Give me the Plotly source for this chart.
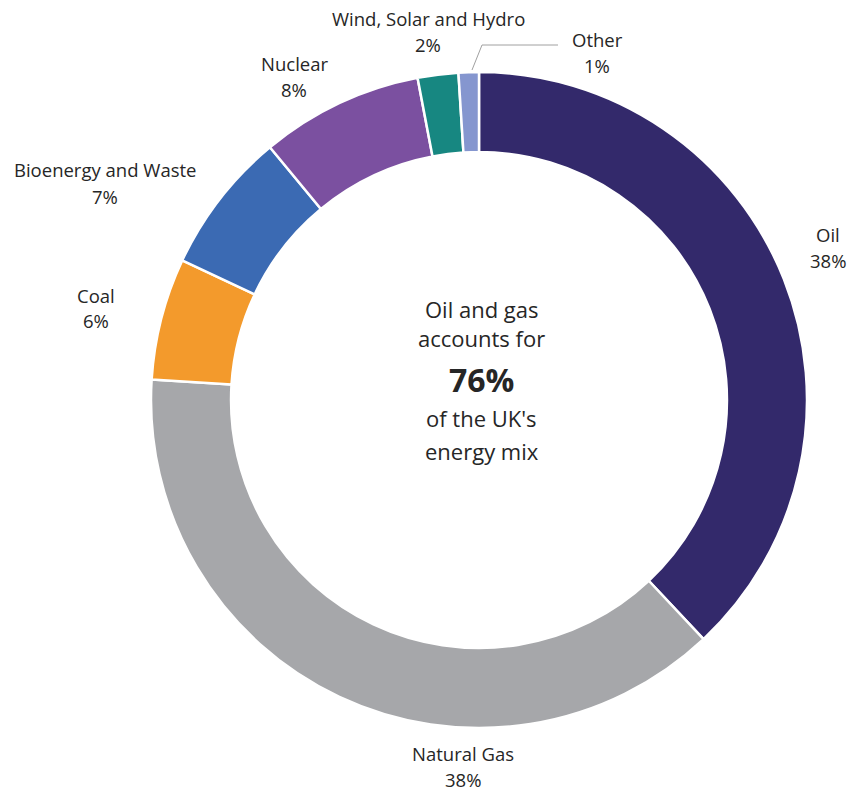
import plotly.graph_objects as go

# UK primary energy mix, share of total (%)
sources = ["Oil", "Natural Gas", "Coal", "Bioenergy and Waste", "Nuclear",
           "Wind, Solar and Hydro", "Other"]
shares = [38, 38, 6, 7, 8, 2, 1]
colors = ["#33296b", "#a6a7aa", "#f39a2c", "#3b6ab3", "#7b50a0", "#178781", "#8596cf"]

W, H = 852, 796
FONT = "Open Sans, Lato, sans-serif"
TEXT = "#262626"


def px(x):
    return x / W


def py(y):
    return 1 - y / H


fig = go.Figure(go.Pie(
    labels=sources,
    values=shares,
    sort=False,
    direction="clockwise",
    rotation=0,
    hole=0.756,
    marker=dict(colors=colors, line=dict(color="white", width=2.5)),
    textinfo="none",
    hoverinfo="label+percent",
    domain=dict(x=[px(151), px(807)], y=[py(728), py(72)]),
    showlegend=False,
))

# Outside labels: name on one line, rounded share beneath
label_pos = {
    "Oil": (828, 235),
    "Natural Gas": (463, 753),
    "Coal": (96, 295),
    "Bioenergy and Waste": (105, 170),
    "Nuclear": (294, 63),
    "Wind, Solar and Hydro": (428, 18),
    "Other": (597, 39),
}
for name, val in zip(sources, shares):
    x, y = label_pos[name]
    fig.add_annotation(x=px(x), y=py(y), xref="paper", yref="paper",
                       text=name, showarrow=False, xanchor="center", yanchor="middle",
                       font=dict(family=FONT, size=18.5, color=TEXT))
    fig.add_annotation(x=px(x), y=py(y + 26), xref="paper", yref="paper",
                       text=f"{val}%", showarrow=False, xanchor="center", yanchor="middle",
                       font=dict(family=FONT, size=18.5, color=TEXT))

# Leader line for the thin "Other" slice
fig.add_shape(type="path", xref="paper", yref="paper",
              path=f"M {px(472)} {py(70)} L {px(482)} {py(45)} L {px(558)} {py(45)}",
              line=dict(color="#a0a0a0", width=1))

# Centre message
oil_gas = shares[0] + shares[1]
center_lines = [
    ("Oil and gas", 309, 22),
    ("accounts for", 338, 22),
    (f"<b>{oil_gas}%</b>", 380, 32),
    ("of the UK's", 418, 22),
    ("energy mix", 451, 22),
]
for txt, y, size in center_lines:
    fig.add_annotation(x=px(482), y=py(y), xref="paper", yref="paper",
                       text=txt, showarrow=False, xanchor="center", yanchor="middle",
                       font=dict(family=FONT, size=size, color=TEXT))

fig.update_layout(
    width=W, height=H,
    margin=dict(l=0, r=0, t=0, b=0),
    paper_bgcolor="white",
    plot_bgcolor="white",
)

fig.write_html("out.html")
